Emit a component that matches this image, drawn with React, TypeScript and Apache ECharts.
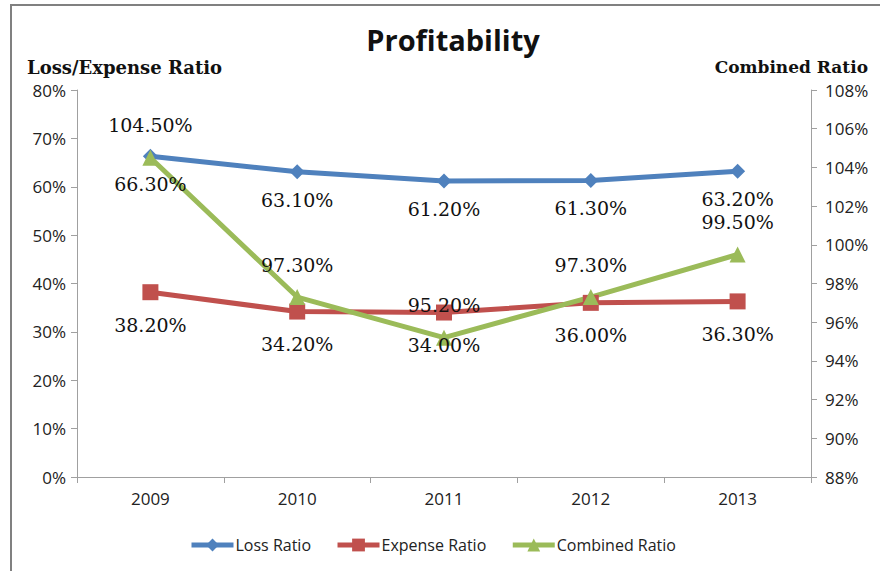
import React, { useEffect, useRef } from "react";
import * as echarts from "echarts";

const categories = ["2009", "2010", "2011", "2012", "2013"];
const lossRatio = [66.3, 63.1, 61.2, 61.3, 63.2];
const expenseRatio = [38.2, 34.2, 34.0, 36.0, 36.3];
const combinedRatio = [104.5, 97.3, 95.2, 97.3, 99.5];
const leftAxis = { min: 0, max: 80, interval: 10 };
const rightAxis = { min: 88, max: 108, interval: 2 };

const labelFont = "'DejaVu Serif', 'Liberation Serif', serif";
const sansFont = "'Open Sans', 'Noto Sans', sans-serif";

export default function App() {
  const ref = useRef<HTMLDivElement>(null);
  useEffect(() => {
    if (!ref.current) return;
    const chart = echarts.init(ref.current, undefined, { renderer: "svg" });
    const fmt = (p: any) => Number(p.value).toFixed(2) + "%";
    const dataLabel = (pos: string, distance: number) => ({
      show: true,
      position: pos,
      distance,
      formatter: fmt,
      fontFamily: labelFont,
      fontSize: 19,
      color: "#111",
    });
    chart.setOption({
      animation: false,
      backgroundColor: "#fff",
      title: {
        text: "Profitability",
        left: 448,
        textAlign: "center",
        top: 20,
        textStyle: { fontFamily: sansFont, fontSize: 29, fontWeight: "bold", color: "#111" },
      },
      graphic: [
        {
          type: "rect",
          shape: { x: 11, y: 5, width: 900, height: 600 },
          style: { fill: "none", stroke: "#808080", lineWidth: 2 },
          silent: true,
        },
        {
          type: "text",
          left: 27,
          top: 58,
          style: { text: "Loss/Expense Ratio", font: "bold 18px 'DejaVu Serif', serif", fill: "#111" },
        },
        {
          type: "text",
          right: 12,
          top: 58,
          style: { text: "Combined Ratio", font: "bold 17px 'DejaVu Serif', serif", fill: "#111" },
        },
      ],
      legend: {
        bottom: 13,
        left: 184,
        itemWidth: 42,
        itemHeight: 16,
        itemGap: 24,
        lineStyle: { width: 5 },
        textStyle: { fontFamily: sansFont, fontSize: 16, color: "#222", padding: [0, 0, 0, -3] },
        data: ["Loss Ratio", "Expense Ratio", "Combined Ratio"],
      },
      grid: { left: 77, right: 69, top: 90, bottom: 94, containLabel: false },
      xAxis: {
        type: "category",
        data: categories,
        boundaryGap: true,
        axisLine: { lineStyle: { color: "#a0a0a0", width: 1 } },
        axisTick: { show: true, alignWithLabel: false, length: 6, lineStyle: { color: "#a0a0a0" } },
        axisLabel: { fontFamily: sansFont, fontSize: 17, color: "#222", margin: 13 },
        splitLine: { show: false },
      },
      yAxis: [
        {
          type: "value",
          ...leftAxis,
          position: "left",
          axisLine: { show: true, lineStyle: { color: "#a0a0a0" } },
          axisTick: { show: true, length: 6, lineStyle: { color: "#a0a0a0" } },
          axisLabel: { formatter: "{value}%", fontFamily: sansFont, fontSize: 17, color: "#222", margin: 11 },
          splitLine: { show: false },
        },
        {
          type: "value",
          ...rightAxis,
          position: "right",
          axisLine: { show: true, lineStyle: { color: "#a0a0a0" } },
          axisTick: { show: true, length: 6, lineStyle: { color: "#a0a0a0" } },
          axisLabel: { formatter: "{value}%", fontFamily: sansFont, fontSize: 17, color: "#222", margin: 14 },
          splitLine: { show: false },
        },
      ],
      series: [
        {
          name: "Loss Ratio",
          type: "line",
          data: lossRatio,
          yAxisIndex: 0,
          color: "#4F81BD",
          lineStyle: { width: 5 },
          symbol: "diamond",
          symbolSize: 15,
          label: dataLabel("bottom", 11),
        },
        {
          name: "Expense Ratio",
          type: "line",
          data: expenseRatio,
          yAxisIndex: 0,
          color: "#C0504D",
          lineStyle: { width: 5 },
          symbol: "rect",
          symbolSize: 16,
          label: dataLabel("bottom", 15),
        },
        {
          name: "Combined Ratio",
          type: "line",
          data: combinedRatio,
          yAxisIndex: 1,
          color: "#9BBB59",
          lineStyle: { width: 5 },
          symbol: "triangle",
          symbolSize: 16,
          label: dataLabel("top", 15),
        },
      ],
    });
    return () => chart.dispose();
  }, []);
  return <div ref={ref} style={{ width: 880, height: 571, position: "absolute", left: 0, top: 0 }} />;
}
